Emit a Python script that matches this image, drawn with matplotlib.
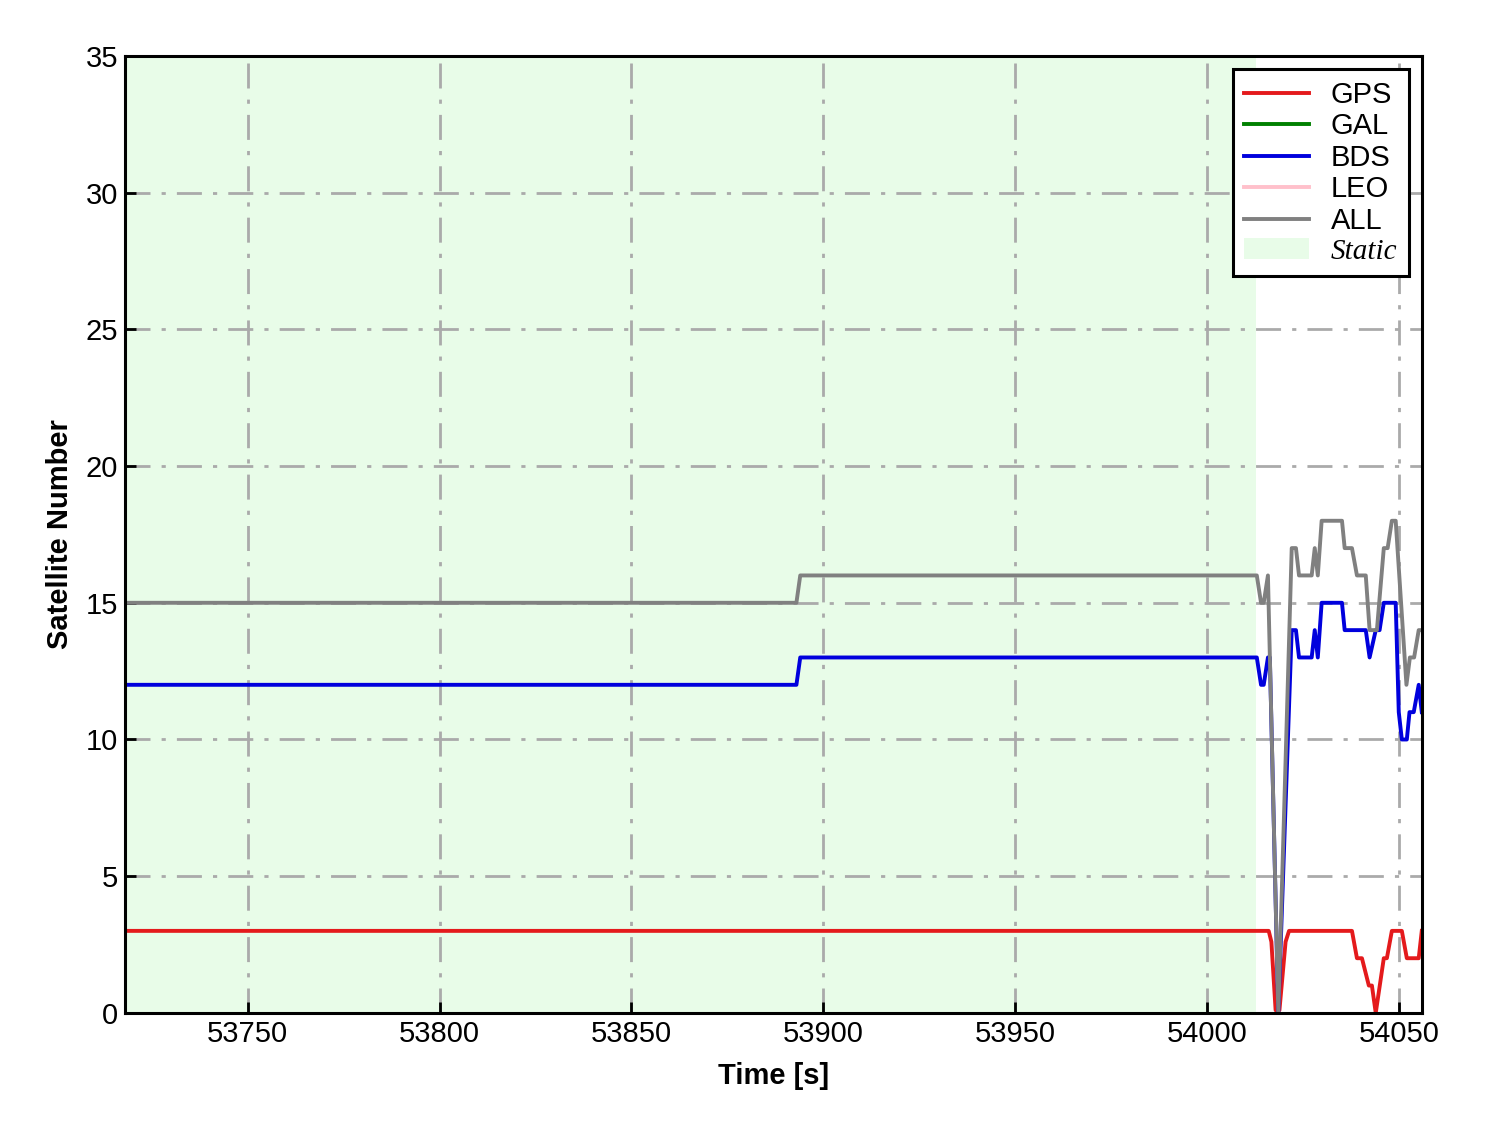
import matplotlib
matplotlib.use("Agg")
import matplotlib.pyplot as plt
from matplotlib.patches import Patch
from matplotlib.lines import Line2D

plt.rcParams['font.family'] = ['Liberation Sans', 'DejaVu Sans']

# ---- data ----
t_gps = [53718, 54016.1, 54016.8, 54017.9, 54018.9, 54020.5, 54021.4,
         54037.8, 54039.1, 54040.4, 54042.2, 54043.0, 54044.0, 54046.1,
         54046.9, 54048.2, 54050.8, 54052.1, 54055.2, 54056.0]
v_gps = [3, 3, 2.6, 0.1, 0.1, 2.6, 3,
         3, 2, 2, 1, 1, 0, 2,
         2, 3, 3, 2, 2, 3]

t_bds = [53718, 53893.0, 53894.0, 54013.0, 54014.1, 54014.8, 54015.9,
         54016.4, 54018.6, 54022.1, 54023.2, 54024.0, 54027.3, 54028.1,
         54028.9, 54029.9, 54035.2, 54035.9, 54041.4, 54042.4, 54044.0,
         54045.0, 54046.1, 54049.2, 54050.0, 54050.8, 54052.1, 54052.8,
         54053.9, 54055.2, 54056.0]
v_bds = [12, 12, 13, 13, 12, 12, 13,
         13, 0, 14, 14, 13, 13, 14,
         13, 15, 15, 14, 14, 13, 14,
         14, 15, 15, 11, 10, 10, 11,
         11, 12, 11]

t_all = [53718, 53893.0, 53894.0, 54013.0, 54014.1, 54014.8, 54015.9,
         54018.6, 54022.1, 54023.2, 54024.0, 54027.3, 54028.1, 54028.9,
         54029.9, 54035.2, 54035.9, 54037.8, 54039.1, 54041.4, 54042.4,
         54044.3, 54046.1, 54047.1, 54048.2, 54049.2, 54052.0, 54052.9,
         54054.0, 54055.2, 54056.0]
v_all = [15, 15, 16, 16, 15, 15, 16,
         0, 17, 17, 16, 16, 17, 16,
         18, 18, 17, 17, 16, 16, 14,
         14, 17, 17, 18, 18, 12, 13,
         13, 14, 14]

t_gal, v_gal = [], []
t_leo, v_leo = [], []

static_range = (53718, 54012.8)
x_limits = (53718, 54056)
y_limits = (0, 35)
x_ticks = [53750, 53800, 53850, 53900, 53950, 54000, 54050]
y_ticks = [0, 5, 10, 15, 20, 25, 30, 35]

# ---- figure ----
fig = plt.figure(figsize=(14.88, 11.33), dpi=100)
ax = fig.add_axes([0.084, 0.106, 0.8715, 0.8446])

ax.axvspan(static_range[0], static_range[1], color='#e8fce8', lw=0, zorder=0)

lw = 2.8
ax.plot(t_gps, v_gps, color='#e41a1c', lw=lw, zorder=3)
ax.plot(t_gal, v_gal, color='green', lw=lw, zorder=3)
ax.plot(t_bds, v_bds, color='#0000dd', lw=lw, zorder=3)
ax.plot(t_leo, v_leo, color='pink', lw=lw, zorder=3)
ax.plot(t_all, v_all, color='gray', lw=lw, zorder=4)

ax.set_xlim(*x_limits)
ax.set_ylim(*y_limits)
ax.set_xticks(x_ticks)
ax.set_yticks(y_ticks)
ax.grid(True, color='#aaaaaa', linestyle=(0, (9, 4, 1.5, 4)), lw=2.0, zorder=1)
ax.set_axisbelow(True)

for s in ax.spines.values():
    s.set_linewidth(2.2)
    s.set_color('black')
    s.set_zorder(6)

ax.tick_params(direction='in', length=8, width=2, labelsize=21, pad=5)
ax.set_xlabel('Time [s]', fontsize=21, fontweight='bold', labelpad=10)
ax.set_ylabel('Satellite Number', fontsize=21, fontweight='bold', labelpad=8)

handles = [
    Line2D([], [], color='#e41a1c', lw=lw),
    Line2D([], [], color='green', lw=lw),
    Line2D([], [], color='#0000dd', lw=lw),
    Line2D([], [], color='pink', lw=lw),
    Line2D([], [], color='gray', lw=lw),
    Patch(facecolor='#e8fce8', edgecolor='none'),
]
labels = ['GPS', 'GAL', 'BDS', 'LEO', 'ALL', 'Static']
leg = ax.legend(handles, labels, loc='upper right', fontsize=21,
                fancybox=False, framealpha=1, edgecolor='black',
                borderpad=0.4, labelspacing=0.12, handlelength=2.2,
                handletextpad=0.75, borderaxespad=0.45)
leg.get_frame().set_linewidth(2.2)
leg.set_zorder(7)
for txt in leg.get_texts():
    if txt.get_text() == 'Static':
        txt.set_fontfamily(['Liberation Serif', 'DejaVu Serif'])
        txt.set_fontstyle('italic')

fig.savefig('out.png', dpi=100)
